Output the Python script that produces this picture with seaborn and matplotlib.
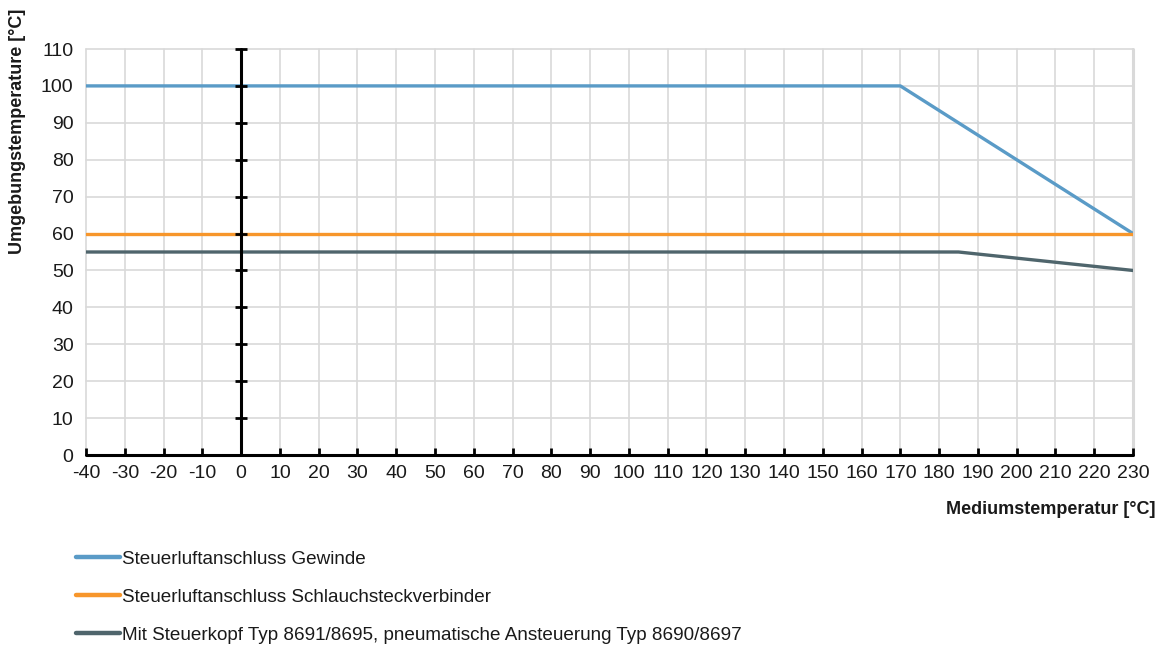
import matplotlib
matplotlib.use("Agg")
import matplotlib.pyplot as plt
import seaborn as sns
import pandas as pd
import numpy as np
from matplotlib.lines import Line2D

# Series: medium temperature (x) vs. permissible ambient temperature (y)
gewinde_x = [-40, 170, 230]
gewinde_y = [100, 100, 60]
schlauch_x = [-40, 230]
schlauch_y = [60, 60]
steuerkopf_x = [-40, 185, 230]
steuerkopf_y = [55, 55, 50]

labels = [
    "Steuerluftanschluss Gewinde",
    "Steuerluftanschluss Schlauchsteckverbinder",
    "Mit Steuerkopf Typ 8691/8695, pneumatische Ansteuerung Typ 8690/8697",
]
colors = ["#5A9BC7", "#F7962B", "#4F656C"]

x_ticks = list(range(-40, 231, 10))
y_ticks = list(range(0, 111, 10))

df = pd.concat([
    pd.DataFrame({"x": gewinde_x, "y": gewinde_y, "serie": labels[0]}),
    pd.DataFrame({"x": schlauch_x, "y": schlauch_y, "serie": labels[1]}),
    pd.DataFrame({"x": steuerkopf_x, "y": steuerkopf_y, "serie": labels[2]}),
])

sns.set_theme(style="white")
plt.rcParams["font.family"] = ["Liberation Sans", "DejaVu Sans"]

fig = plt.figure(figsize=(11.57, 6.46), dpi=100)
ax = fig.add_axes([86 / 1157, 1 - 455 / 646, (1133 - 86) / 1157, (455 - 49) / 646])

# light grid
for xv in x_ticks:
    ax.axvline(xv, color="#D9D9D9", lw=1.2, zorder=0, clip_on=False)
for yv in y_ticks:
    ax.axhline(yv, color="#D9D9D9", lw=1.2, zorder=0, clip_on=False)
ax.axvline(x_ticks[-1], color="#D9D9D9", lw=2.2, zorder=0, clip_on=False)

sns.lineplot(data=df, x="x", y="y", hue="serie", palette=colors,
             hue_order=labels, lw=2.4, legend=False, ax=ax, zorder=3,
             sort=False, estimator=None)

# black axes through the origin with tick marks
ax.axhline(0, color="black", lw=2.2, zorder=5, clip_on=False)
ax.axvline(0, color="black", lw=2.2, zorder=5, clip_on=False)
ax.plot(np.zeros(len(y_ticks)), y_ticks, ls="none", marker="_", ms=8,
        mew=2, color="black", zorder=5, clip_on=False)
ax.plot(x_ticks, np.zeros(len(x_ticks)), ls="none", marker=2, ms=5,
        mew=2, color="black", zorder=5, clip_on=False)

ax.set_xlim(-40, 230)
ax.set_ylim(0, 110)
ax.set_xticks(x_ticks)
ax.set_yticks(y_ticks)
ax.set_xticklabels([str(v) for v in x_ticks])
ax.set_yticklabels([str(v) for v in y_ticks])
ax.tick_params(axis="both", length=0, labelsize=14, colors="#1a1a1a")
ax.tick_params(axis="x", pad=7)
ax.tick_params(axis="y", pad=9)
for s in ax.spines.values():
    s.set_visible(False)
ax.set_xlabel("")
ax.set_ylabel("")

fig.text(1155 / 1157, 1 - 510 / 646, "Mediumstemperatur [°C]", ha="right",
         va="center", fontsize=13, fontweight="semibold", color="#1a1a1a")
fig.text(18 / 1157, 1 - 9 / 646, "Umgebungstemperature [°C]", ha="center",
         va="top", rotation=90, fontsize=13, fontweight="semibold",
         color="#1a1a1a")

handles = [Line2D([], [], color=c, lw=3.2) for c in colors]
fig.legend(handles, labels, loc="upper left",
           bbox_to_anchor=(67 / 1157, 1 - 541 / 646), frameon=False,
           fontsize=13.6, handlelength=2.3, handletextpad=0.1,
           labelspacing=1.1, borderpad=0, labelcolor="#1a1a1a")

fig.savefig("out.png", dpi=100)
